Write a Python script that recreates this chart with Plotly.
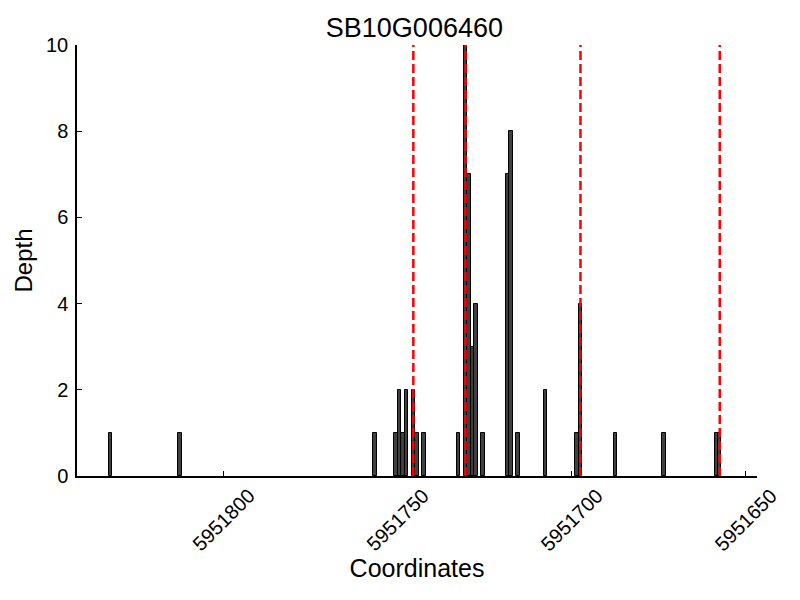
import plotly.graph_objects as go

# Data
coords = [5951832, 5951812, 5951756, 5951750, 5951749, 5951748, 5951747, 5951745,
          5951744, 5951742, 5951732, 5951730, 5951729, 5951728, 5951727, 5951725,
          5951718, 5951717, 5951715, 5951707, 5951698, 5951697, 5951687, 5951673,
          5951658, 5951657]
depth = [1, 1, 1, 1, 2, 1, 2, 2, 1, 1, 1, 10, 7, 3, 4, 1, 7, 8, 1, 2, 1, 4, 1, 1, 1, 1]
boundaries = [5951745.5, 5951730.5, 5951697.5, 5951657.5]
x_ticks = [5951800, 5951750, 5951700, 5951650]
x_tick_labels = ["5951800", "5951750", "5951700", "5951650"]
y_ticks = [0, 2, 4, 6, 8, 10]
title = "SB10G006460"

FONT = "Liberation Sans, Arial, sans-serif"

fig = go.Figure()
fig.add_trace(go.Bar(
    x=coords, y=depth, width=1, offset=0,
    marker=dict(color="#404040", line=dict(color="#000000", width=1)),
    showlegend=False,
))

for b in boundaries:
    fig.add_shape(type="line", x0=b, x1=b, y0=0, y1=10, xref="x", yref="y",
                  line=dict(color="#ff0000", width=2.5, dash="9px,4px"), layer="above")

# rotated x tick labels centred under their ticks (matplotlib style)
for v, t in zip(x_ticks, x_tick_labels):
    fig.add_annotation(x=v, xref="x", y=-0.014, yref="paper", text=t, textangle=-45,
                       showarrow=False, xanchor="center", yanchor="top",
                       font=dict(size=20, family=FONT, color="black"))

fig.update_layout(
    width=800, height=600,
    margin=dict(l=69, r=51, t=37, b=132),
    paper_bgcolor="white", plot_bgcolor="white",
    title=dict(text=title, x=0.508, xanchor="center", xref="container",
               y=0.968, yref="container", yanchor="middle",
               font=dict(family=FONT, size=27, color="black")),
    font=dict(family=FONT, color="black"),
    bargap=0,
    xaxis=dict(
        range=[5951842.1, 5951646.8], autorange=False, automargin=False,
        tickvals=x_ticks, ticktext=x_tick_labels, showticklabels=False,
        ticks="inside", ticklen=5, tickcolor="black", tickwidth=1,
        showline=True, linecolor="black", linewidth=1.5,
        showgrid=False, zeroline=False,
        title=dict(text="Coordinates", font=dict(size=25, family=FONT), standoff=83),
    ),
    yaxis=dict(
        range=[0, 10], autorange=False, automargin=False,
        tickvals=y_ticks, ticks="inside", ticklen=5, tickcolor="black", tickwidth=1,
        showline=True, linecolor="black", linewidth=1.5,
        showgrid=False, zeroline=False, ticklabelstandoff=3,
        tickfont=dict(size=20, family=FONT),
        title=dict(text="Depth", font=dict(size=24, family=FONT), standoff=7),
    ),
)

fig.write_html("out.html")
